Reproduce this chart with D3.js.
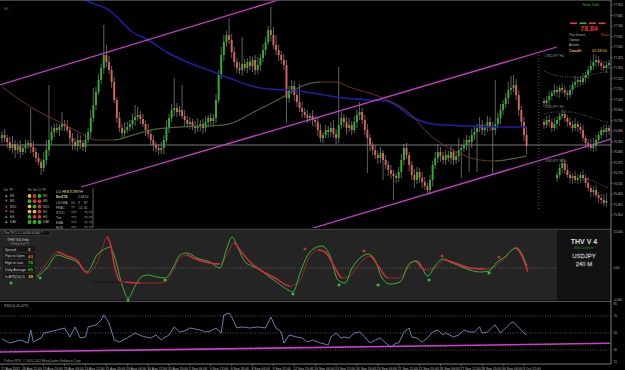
<!DOCTYPE html>
<html><head><meta charset="utf-8">
<script src="https://cdn.jsdelivr.net/npm/d3@7"></script>
<style>html,body{margin:0;padding:0;background:#000;overflow:hidden}svg{display:block}text{font-family:"Liberation Sans",Arial,sans-serif}</style>
</head><body><svg id="c" width="625" height="370"></svg>
<script>
// ---------- DATA ----------
const firstOpen = 76.62;
const closes = [
76.65,76.62,76.58,76.52,76.56,76.50,76.54,76.48,76.52,76.55,
76.57,76.53,76.48,76.42,76.38,76.32,76.40,76.50,76.60,76.68,
76.72,76.70,76.73,76.76,76.74,76.70,76.62,76.58,76.54,76.60,
76.57,76.53,76.60,76.68,76.82,76.95,77.08,77.20,77.32,77.45,
77.38,77.30,77.18,77.00,76.82,76.72,76.67,76.70,76.73,76.76,
76.80,76.83,76.85,76.81,76.76,76.70,76.66,76.60,76.55,76.52,
76.50,76.52,76.60,76.72,76.82,76.90,76.92,76.88,76.90,76.84,
76.80,76.76,76.78,76.73,76.72,76.74,76.76,76.72,76.78,76.82,
76.79,76.82,77.00,77.25,77.45,77.58,77.65,77.60,77.48,77.38,
77.32,77.30,77.36,77.32,77.38,77.34,77.40,77.30,77.35,77.42,
77.50,77.58,77.70,77.65,77.55,77.50,77.45,77.40,77.35,77.02,
77.10,77.14,77.05,76.98,76.92,76.88,76.85,76.82,76.84,76.80,
76.78,76.70,76.62,76.65,76.70,76.68,76.72,76.66,76.62,76.75,
76.82,76.78,76.72,76.75,76.70,76.78,76.85,76.88,76.80,76.70,
76.62,76.55,76.50,76.45,76.42,76.47,76.40,76.35,76.30,76.26,
76.24,76.22,76.28,76.40,76.52,76.45,76.35,76.25,76.20,76.28,
76.22,76.18,76.14,76.10,76.20,76.35,76.42,76.48,76.44,76.40,
76.45,76.42,76.48,76.40,76.44,76.50,76.52,76.55,76.60,76.58,
76.65,76.68,76.72,76.75,76.70,76.72,76.78,76.74,76.70,76.76,
76.82,76.90,76.96,77.02,77.10,77.12,77.15,77.05,76.90,76.78,
76.65,76.54];
const wickUp = [
4,6,3,5,8,4,3,6,4,5, 3,35,6,4,5,3,8,10,55,6, 4,5,3,12,4,6,3,5,4,7, 5,3,6,4,8,17,5,6,4,30,
10,6,4,5,3,6,4,8,5,4, 6,12,8,4,5,3,6,4,5,3, 4,6,5,8,4,6,30,5,4,25, 6,4,5,3,6,8,4,5,6,3,
5,4,6,5,8,7,4,17,6,5, 4,6,27,5,4,6,3,5,8,4, 6,5,4,23,8,10,5,4,6,5, 4,6,5,3,18,6,4,5,3,6,
4,5,6,3,5,4,6,8,5,58, 6,4,5,7,4,6,5,10,4,5, 6,4,3,5,4,6,3,5,4,5, 4,3,5,6,4,5,3,4,6,5,
4,6,5,3,5,4,6,8,5,4, 5,4,6,3,5,12,4,6,5,4, 6,5,4,8,5,4,6,5,4,44, 5,6,4,5,8,12,10,6,5,4, 5,8];
const wickDn = [
5,4,6,3,5,8,4,6,3,5, 4,6,5,4,3,7,4,5,6,4, 5,3,6,4,5,3,6,8,4,5, 6,4,5,3,6,4,5,3,4,6,
5,4,6,3,5,4,6,5,3,4, 5,6,4,5,3,6,4,5,6,4, 5,4,6,3,5,4,6,5,4,3, 6,4,5,3,6,4,5,6,4,5,
4,6,5,3,4,6,5,4,6,5, 5,4,6,3,5,4,6,5,4,6, 4,5,3,6,4,5,6,4,5,25, 5,4,6,5,4,6,3,5,4,6,
5,6,4,5,3,6,5,4,6,5, 4,5,6,4,5,3,6,5,4,5, 35,6,5,4,6,5,20,4,6,5, 24,5,4,6,5,4,6,5,8,4,
5,6,4,3,5,6,4,5,6,4, 5,4,6,5,4,6,28,4,5,30, 6,5,40,4,5,6,4,5,45,5, 4,6,5,4,6,5,4,5,6,4, 6,8];
const blueMA = [[28,78.08],[32,78.00],[41,77.90],[50,77.68],[56,77.60],[63,77.48],[71,77.38],[80,77.29],[87,77.22],[99,77.12],[114,77.09],[128,77.03],[141,77.00],[147,76.99],[152,76.93],[156,76.85],[165,76.76],[178,76.74],[191,76.73],[201,76.73]];
const trendMA = [[0,77.13],[7,77.00],[15,76.87],[22,76.78],[30,76.67],[36,76.60],[43,76.60],[49,76.64],[57,76.70],[68,76.73],[85,76.75],[98,76.90],[107,77.02],[115,77.14],[122,77.18],[128,77.18],[133,77.13],[145,77.03],[156,76.87],[164,76.65],[175,76.47],[183,76.40],[189,76.39],[195,76.41],[201,76.44]];
const channels = [[[-1,77.15],[106,78.00]],[[30.3,76.13],[212.6,77.53]],[[119.2,75.72],[238.7,76.65]]];
const hLineLevel = 76.55;
const priceTicks = ["77.950","77.845","77.740","77.635","77.530","77.425","77.320","77.215","77.110","77.005","76.900","76.795","76.690","76.585","76.480","76.375","76.270","76.165","76.060","75.955","75.850"];
const timeLabels = ["17 Aug 2011","18 Aug 12:00","19 Aug 20:00","23 Aug 04:00","24 Aug 12:00","25 Aug 20:00","29 Aug 04:00","30 Aug 12:00","31 Aug 20:00","2 Sep 04:00","5 Sep 12:00","6 Sep 20:00","8 Sep 04:00","9 Sep 12:00","12 Sep 20:00","14 Sep 04:00","15 Sep 12:00","16 Sep 20:00","20 Sep 04:00","21 Sep 12:00","22 Sep 20:00","26 Sep 04:00","27 Sep 12:00","28 Sep 20:00","30 Sep 04:00","3 Oct 12:00"];

// projection mini charts
const miniTitles = ["USDJPY H4","USDJPY H1","USDJPY M15"];
const miniTitleLevels = [77.43, 76.92, 76.38];
const mini1 = [76.97,77.00,77.04,77.07,77.10,77.08,77.12,77.10,77.07,77.05,77.10,77.15,77.18,77.20,77.18,77.22,77.25,77.30,77.34,77.38,77.40,77.37,77.34,77.32,77.35,77.37];
const mini2 = [76.75,76.80,76.78,76.72,76.76,76.80,76.84,76.86,76.82,76.78,76.75,76.72,76.76,76.73,76.70,76.62,76.57,76.55,76.52,76.54,76.60,76.65,76.70,76.68,76.72,76.69];
const mini3 = [76.25,76.32,76.37,76.30,76.25,76.22,76.24,76.20,76.22,76.25,76.22,76.17,76.12,76.08,76.10,76.05,76.02,76.00,75.97,75.99];
const mini3Start = 5;
const miniWickUp = [3,4,5,3,6,4,3,5,4,3,5,4,6,3,4,5,3,4,6,8,5,4,3,5,4,3];
const miniWickDn = [4,3,5,4,3,5,6,3,4,5,3,4,3,5,4,3,5,4,3,4,5,3,4,3,5,4];
const miniDots1 = [[0,77.29],[4,77.25],[9,77.23],[14,77.23],[18,77.25],[21,77.27],[25,77.28]];
const miniDots2 = [[0,76.86],[5,76.88],[10,76.88],[15,76.85],[20,76.81],[25,76.77]];
const miniDots3 = [[14,76.23],[18,76.20],[22,76.15],[25,76.12]];

// THV indicator
const thvFast = [[13.4,-9],[17.2,0],[21.1,13],[24.9,10],[28.7,6],[32.6,-4],[36.4,13],[40.2,20],[41.4,21],[43.3,10],[46,-17],[48.3,-30],[51,-18],[52.9,-10],[55.6,-7],[59.4,-9],[62.5,-10],[65.5,0],[68.2,13],[70.9,15],[74.7,10],[79.7,6],[83.5,0],[86.2,20],[88.1,31],[90.4,20],[93.1,6],[95.8,2],[98.9,-2],[101.9,-8],[105.7,-15],[109.6,-22],[111.5,-24],[114.2,-5],[116.9,12],[119.9,20],[122.6,22],[125.7,12],[128.7,-12],[131.4,-15],[134.1,0],[137.2,10],[140.2,14],[142.9,8],[145.6,-10],[148.7,-16],[152.5,-14],[156.3,5],[159,7],[163.2,-8],[165.9,2],[169,9],[171.6,6],[175.5,2],[179.3,-2],[183.1,-4],[186.6,-3],[189.7,6],[192.7,11],[195.4,18],[197.3,20],[199.2,14],[201.1,2]];
const thvSlow = [[13.4,-8],[17.2,5],[21.1,16],[24.9,12],[28.7,8],[32.6,-5],[36.4,5],[38.7,22],[40.2,31],[41.4,25],[43.3,0],[45.2,-13],[47.1,-14],[52.9,-15],[59.4,-15],[62.5,-14],[64.4,-8],[68.2,10],[70.9,13],[73.2,10],[79.7,5],[83.5,4],[86.6,15],[88.9,25],[91.2,18],[95,6],[99.6,-3],[104.6,-10],[110.3,-18],[114.2,-12],[117.2,8],[121.1,18],[123.8,16],[127.6,0],[130.3,-10],[133.3,-8],[137.2,5],[141,12],[144.1,2],[147.9,-10],[151.7,-10],[155.6,0],[158.2,7],[162.1,-2],[165.9,0],[169.7,8],[173.6,5],[179.3,0],[185.1,-1],[188.9,2],[192.7,10],[196.6,20],[199.2,12],[201.5,-4]];
const thvBuy = [[14.6,-8],[48.3,-30],[62.5,-10],[111.5,-24],[129.1,-15],[144.1,-15],[163.6,-10],[186.6,-3]];
const thvSell = [[116.1,17],[138.7,15],[168.6,10],[190.4,9]];
const thvInfoLabels = ["Spread","Pips to Open","High to Low","Daily Average","Is ATR(10)-%"];
const thvInfoValues = ["2","43","78","65","38"];

// RSI
const rsi = [[0,42.9],[3,38.2],[7,41.8],[10,38.2],[11,53.5],[12,39.4],[15,44.1],[16,50],[18,51.2],[21,53.5],[24,55.9],[26,45.3],[28,57.1],[30,44.1],[32,45.3],[33,57.1],[36,59.4],[38,65.3],[39,71.2],[41,61.8],[43,41.8],[45,39.4],[48,44.1],[51,50],[53,47.1],[55,45.3],[57,44.1],[59,47.6],[61,41.8],[62,44.1],[64,47.6],[66,57.1],[68,51.2],[70,52.4],[72,55.9],[74,54.7],[76,53.5],[78,51.2],[80,52.4],[82,55.9],[84,50],[85,71.2],[87,73.5],[88,68.8],[90,55.9],[92,57.1],[95,55.9],[98,57.1],[101,55.9],[103,68.8],[105,55.9],[107,51.2],[108,38.2],[110,47.6],[113,45.3],[115,44.1],[117,39.4],[119,41.8],[122,38.2],[125,35.9],[126,45.3],[128,50],[130,44.1],[131,45.3],[133,44.1],[135,50],[137,51.2],[139,45.3],[141,38.2],[143,41.8],[145,44.1],[147,38.2],[149,33.5],[151,38.2],[152,38.2],[154,51.2],[156,55.9],[157,45.3],[159,44.1],[161,39.4],[163,44.1],[165,51.2],[167,53.5],[169,47.6],[170,50],[173,45.3],[175,47.6],[177,53.5],[179,51.2],[181,51.2],[183,57.1],[184,50],[186,51.2],[188,57.1],[189,59.4],[191,50],[193,55.9],[195,61.8],[196,62.9],[197,59.4],[199,53.5],[200,50],[201,47.6]];
const rsiTrend = [[-1,27.6],[233,37.9]];
const rsiLevels = [70,50,30];
const rsiTicks = [85,70,50,30,15];

// dashboard tables
const tfRows = ["M1","M5","M15","H1","H4","DAY"];
const tfDir = ["#2ec82e","#e04040","#e04040","#e04040","#2ec82e","#2ec82e"];
const tfDots = [["#e8b830","#e03030","#20c020"],["#20c020","#e03030","#e03030"],["#e8b830","#20c020","#e03030"],["#e8b830","#e8b830","#e03030"],["#20c020","#e03030","#e03030"],["#20c020","#20c020","#20c020"]];
const histRows = [["LGOMA","14","3","87"],["FRAC","??","-14","61"],["STOC","???","","??.??"],["Trix","???","","??.??"],["EMA","???","","??.??"],["HOR","???","","??.??"]];

// ---------- DRAW ----------
const svg = d3.select("#c");
svg.append("rect").attr("width",625).attr("height",370).attr("fill","#000");
const defs = svg.append("defs");
const W = 611;
const x = d3.scaleLinear().domain([0,201]).range([2,526.6]);
const y = d3.scaleLinear().domain([75.72,78.00]).range([228,0]);
defs.append("clipPath").attr("id","mainClip").append("rect").attr("x",0).attr("y",0.5).attr("width",W).attr("height",227.5);

const main = svg.append("g").attr("clip-path","url(#mainClip)");
main.append("line").attr("x1",0).attr("x2",W).attr("y1",y(hLineLevel)).attr("y2",y(hLineLevel)).attr("stroke","#9a9a9a").attr("stroke-width",0.8);

// candles
const bars = closes.map((c,i)=>{const o = i ? closes[i-1] : firstOpen; return {i,o,c,h:Math.max(o,c)+wickUp[i]/100,l:Math.min(o,c)-wickDn[i]/100};});
main.selectAll(".wk").data(bars).join("line").attr("x1",d=>x(d.i)).attr("x2",d=>x(d.i)).attr("y1",d=>y(d.h)).attr("y2",d=>y(d.l)).attr("stroke","#8a8a8a").attr("stroke-width",0.7);
main.selectAll(".bd").data(bars).join("rect").attr("x",d=>x(d.i)-0.95).attr("width",1.9)
  .attr("y",d=>y(Math.max(d.o,d.c))).attr("height",d=>Math.max(0.8,Math.abs(y(d.o)-y(d.c))))
  .attr("fill",d=>d.c>=d.o?"#2cb52c":"#e0605a");

// moving averages
const lineG = d3.line().x(d=>x(d[0])).y(d=>y(d[1])).curve(d3.curveMonotoneX);
main.append("path").attr("d",lineG(blueMA)).attr("fill","none").attr("stroke","#1e1eaa").attr("stroke-width",1.5);
const upClip = defs.append("clipPath").attr("id","trendUp");
trendMA.forEach((d,k)=>{ if(k<trendMA.length-1 && trendMA[k+1][1]>d[1]) upClip.append("rect").attr("x",x(d[0])).attr("y",0).attr("width",x(trendMA[k+1][0])-x(d[0])).attr("height",228); });
main.append("path").attr("d",lineG(trendMA)).attr("fill","none").attr("stroke","#8e3a2a").attr("stroke-width",0.8);
main.append("path").attr("d",lineG(trendMA)).attr("fill","none").attr("stroke","#2f7f2f").attr("stroke-width",0.9).attr("clip-path","url(#trendUp)");

// channel lines
channels.forEach(c=>{
  main.append("line").attr("x1",x(c[0][0])).attr("y1",y(c[0][1])).attr("x2",x(c[1][0])).attr("y2",y(c[1][1])).attr("stroke","#d23ad2").attr("stroke-width",1.3);
});

// projection mini charts
const mx = d3.scaleLinear().domain([0,25]).range([544,609]);
main.append("line").attr("x1",mx(-2)).attr("x2",mx(-2)).attr("y1",y(77.45)).attr("y2",y(75.90)).attr("stroke","#888").attr("stroke-width",0.7).attr("stroke-dasharray","1,2");
function miniChart(vals, start, dots, title, titleLevel, openV){
  const bs = vals.map((c,k)=>{const o = k? vals[k-1] : openV; return {k:k+start,o,c,h:Math.max(o,c)+miniWickUp[k]/100,l:Math.min(o,c)-miniWickDn[k]/100};});
  const g = main.append("g");
  g.selectAll("line").data(bs).join("line").attr("x1",d=>mx(d.k)).attr("x2",d=>mx(d.k)).attr("y1",d=>y(d.h)).attr("y2",d=>y(d.l)).attr("stroke","#8a8a8a").attr("stroke-width",0.6);
  g.selectAll("rect").data(bs).join("rect").attr("x",d=>mx(d.k)-0.95).attr("width",1.9).attr("y",d=>y(Math.max(d.o,d.c))).attr("height",d=>Math.max(0.8,Math.abs(y(d.o)-y(d.c)))).attr("fill",d=>d.c>=d.o?"#2cb52c":"#e0605a");
  const dl = d3.line().x(d=>mx(d[0])).y(d=>y(d[1])).curve(d3.curveMonotoneX);
  g.append("path").attr("d",dl(dots)).attr("fill","none").attr("stroke","#bbb").attr("stroke-width",0.6).attr("stroke-dasharray","0.8,1.6");
  g.append("text").attr("x",mx(0.5)).attr("y",y(titleLevel)).attr("font-size",3.4).attr("fill","#9a9a9a").text(title);
}
miniChart(mini1,0,miniDots1,miniTitles[0],miniTitleLevels[0],76.99);
miniChart(mini2,0,miniDots2,miniTitles[1],miniTitleLevels[1],76.78);
miniChart(mini3,mini3Start,miniDots3,miniTitles[2],miniTitleLevels[2],76.22);

// top-left label
svg.append("text").attr("x",4).attr("y",10).attr("font-size",3.5).attr("fill","#2a9a2a").text("H4 ");
// top-right info
svg.append("text").attr("x",591).attr("y",6).attr("font-size",4).attr("fill","#2cbf2c").attr("text-anchor","middle").text("New York");
["#e04040","#2cbf2c","#e04040","#e04040"].forEach((c,k)=>svg.append("rect").attr("x",570+k*9.5).attr("y",22.5).attr("width",7).attr("height",1.6).attr("fill",c));
svg.append("text").attr("x",589).attr("y",31).attr("font-size",7).attr("font-weight","bold").attr("fill","#ee3030").attr("text-anchor","middle").text("78.84");
[["Trix Direct","Bear","#ee3030"],["Option","",""],["Action","",""]].forEach((r,k)=>{
  const yy = 35.5+k*5.2;
  svg.append("text").attr("x",569).attr("y",yy).attr("font-size",3.6).attr("fill","#bbb").text(r[0]);
  svg.append("text").attr("x",589).attr("y",yy).attr("font-size",3.6).attr("fill","#bbb").text(":");
  if(r[1]) svg.append("text").attr("x",601).attr("y",yy).attr("font-size",3.6).attr("fill",r[2]).text(r[1]);
});
svg.append("text").attr("x",569).attr("y",51.5).attr("font-size",3.8).attr("font-weight","bold").attr("fill","#f0b020").text("Candle");
svg.append("text").attr("x",589).attr("y",51.5).attr("font-size",3.8).attr("fill","#f0b020").text(":");
svg.append("text").attr("x",592).attr("y",51.5).attr("font-size",3.8).attr("fill","#f0c040").text("02:48:50");

// bottom-left dashboard
const dash = svg.append("g");
dash.append("text").attr("x",4).attr("y",191).attr("font-size",3.3).attr("fill","#aaa").text("Dir  TF");
dash.append("text").attr("x",28).attr("y",191).attr("font-size",3.3).attr("fill","#aaa").text("Fo So Ct  TF");
tfRows.forEach((r,k)=>{
  const yy = 196+k*5.2;
  dash.append("path").attr("d",k%2===0||k>3? `M${5},${yy+1} l1.3,-2.4 l1.3,2.4 z` : `M${5},${yy-1.4} l1.3,2.4 l1.3,-2.4 z`).attr("fill",tfDir[k]);
  dash.append("text").attr("x",10).attr("y",yy+1.2).attr("font-size",3.3).attr("fill","#bbb").text(r);
  tfDots[k].forEach((c,j)=>dash.append("circle").attr("cx",29.5+j*5).attr("cy",yy).attr("r",1.9).attr("fill",c));
  dash.append("text").attr("x",43).attr("y",yy+1.2).attr("font-size",3.3).attr("fill","#bbb").text(r);
});
dash.append("line").attr("x1",93).attr("x2",93).attr("y1",188).attr("y2",228).attr("stroke","#777").attr("stroke-width",0.8);
dash.append("text").attr("x",56).attr("y",193).attr("font-size",4).attr("fill","#ccc").text("LU ").append("tspan").attr("fill","#e8e070").text("HISTORY").append("tspan").attr("fill","#ccc").text("H");
dash.append("text").attr("x",56).attr("y",198.3).attr("font-size",3.2).attr("fill","#d8d040").attr("font-weight","bold").text("BarETA");
dash.append("text").attr("x",78).attr("y",198.3).attr("font-size",3.2).attr("fill","#bbb").text("2:48:50");
histRows.forEach((r,k)=>{
  const yy = 203.5+k*5.1;
  dash.append("text").attr("x",56).attr("y",yy).attr("font-size",3.2).attr("fill","#bbb").text(r[0]);
  dash.append("text").attr("x",71).attr("y",yy).attr("font-size",3.2).attr("fill","#bbb").text(r[1]);
  dash.append("text").attr("x",78).attr("y",yy).attr("font-size",3.2).attr("fill","#bbb").text(r[2]);
  dash.append("text").attr("x",84).attr("y",yy).attr("font-size",3.2).attr("fill","#bbb").text(r[3]);
});

// ---------- THV panel ----------
const thvY = d3.scaleLinear().domain([-33,37]).range([301,231]);
svg.append("line").attr("x1",0).attr("x2",W).attr("y1",229.3).attr("y2",229.3).attr("stroke","#666").attr("stroke-width",0.8);
svg.append("rect").attr("x",0).attr("y",230).attr("width",557).attr("height",70.5).attr("fill","#242424");
svg.append("rect").attr("x",557).attr("y",230).attr("width",54).attr("height",70.5).attr("fill","#111");
svg.append("line").attr("x1",0).attr("x2",W).attr("y1",301.5).attr("y2",301.5).attr("stroke","#666").attr("stroke-width",0.8);
svg.append("line").attr("x1",0).attr("x2",557).attr("y1",thvY(0)).attr("y2",thvY(0)).attr("stroke","#888").attr("stroke-width",0.6).attr("stroke-dasharray","1,1.5");
const thvL = d3.line().x(d=>x(d[0])).y(d=>thvY(d[1])).curve(d3.curveMonotoneX);
const dnClip = defs.append("clipPath").attr("id","slowDn");
thvSlow.forEach((d,k)=>{ if(k<thvSlow.length-1 && thvSlow[k+1][1]<d[1]) dnClip.append("rect").attr("x",x(d[0])).attr("y",230).attr("width",x(thvSlow[k+1][0])-x(d[0])).attr("height",72); });
svg.append("path").attr("d",thvL(thvSlow)).attr("fill","none").attr("stroke","#b52828").attr("stroke-width",0.8);
svg.append("path").attr("d",thvL(thvFast)).attr("fill","none").attr("stroke","#36c436").attr("stroke-width",0.9);
svg.append("path").attr("d",thvL(thvSlow)).attr("fill","none").attr("stroke","#d42a3c").attr("stroke-width",1.5).attr("clip-path","url(#slowDn)");
function plus(g,cx,cy,col){ g.append("path").attr("d",`M${cx-1.6},${cy} h3.2 M${cx},${cy-1.6} v3.2`).attr("stroke",col).attr("stroke-width",1.1); }
thvBuy.forEach(d=>plus(svg,x(d[0]),thvY(d[1])+2,"#40e040"));
thvSell.forEach(d=>plus(svg,x(d[0]),thvY(d[1])-2,"#e03a3a"));
svg.append("text").attr("x",92).attr("y",283).attr("font-size",3.6).attr("fill","#111").text("www.cobraforex.com");
svg.append("rect").attr("x",3).attr("y",230.8).attr("width",47).attr("height",4.6).attr("fill","#111").attr("stroke","#555").attr("stroke-width",0.4);
svg.append("text").attr("x",4).attr("y",234.3).attr("font-size",3.2).attr("fill","#bbb").text("Trix TV 1.1 1 0.000 4.000 ?");
svg.append("text").attr("x",7).attr("y",240.5).attr("font-size",4).attr("fill","#ccc").text("THV  V4  Info");
svg.append("text").attr("x",10).attr("y",245).attr("font-size",2.8).attr("fill","#999").text("# Pulse 0 or ??");
const infoCols = ["#e8c020","#ff6030","#30d030","#30d030","#e8c020"];
thvInfoLabels.forEach((l,k)=>{
  const yy = 250+k*6.7;
  svg.append("rect").attr("x",3).attr("y",yy-3.4).attr("width",32).attr("height",5).attr("fill","#161616");
  svg.append("text").attr("x",5).attr("y",yy+0.7).attr("font-size",3.4).attr("fill","#ccc").text(l);
  svg.append("text").attr("x",28).attr("y",yy+1).attr("font-size",4.4).attr("font-weight","bold").attr("fill",infoCols[k]).text(thvInfoValues[k]);
});
plus(svg,11,283,"#40e040");
svg.append("text").attr("x",584).attr("y",244).attr("font-size",7).attr("font-weight","bold").attr("fill","#ddd").attr("text-anchor","middle").text("THV V 4");
svg.append("text").attr("x",584).attr("y",248.5).attr("font-size",2.8).attr("fill","#2a9a2a").attr("text-anchor","middle").text("Billy Coventure");
svg.append("text").attr("x",584).attr("y",258).attr("font-size",6).attr("fill","#111").attr("stroke","#ccc").attr("stroke-width",0.35).attr("text-anchor","middle").text("USDJPY");
svg.append("text").attr("x",584).attr("y",265.5).attr("font-size",6).attr("fill","#111").attr("stroke","#ccc").attr("stroke-width",0.35).attr("text-anchor","middle").text("240 M");

// ---------- RSI panel ----------
const rsiY = d3.scaleLinear().domain([30,70]).range([350,316]);
defs.append("clipPath").attr("id","rsiClip").append("rect").attr("x",0).attr("y",302).attr("width",W).attr("height",62);
const rg = svg.append("g").attr("clip-path","url(#rsiClip)");
rsiLevels.forEach(v=>rg.append("line").attr("x1",0).attr("x2",W).attr("y1",rsiY(v)).attr("y2",rsiY(v)).attr("stroke","#888").attr("stroke-width",0.6).attr("stroke-dasharray","1,1.5"));
rg.append("line").attr("x1",x(rsiTrend[0][0])).attr("y1",rsiY(rsiTrend[0][1])).attr("x2",x(rsiTrend[1][0])).attr("y2",rsiY(rsiTrend[1][1])).attr("stroke","#d23ad2").attr("stroke-width",1.6);
rg.append("path").attr("d",d3.line().x(d=>x(d[0])).y(d=>rsiY(d[1])).curve(d3.curveLinear)(rsi)).attr("fill","none").attr("stroke","#7f9fd8").attr("stroke-width",0.8);
svg.append("text").attr("x",4).attr("y",307).attr("font-size",3.3).attr("fill","#aaa").text("RSI(14) 45.4775");
svg.append("text").attr("x",4).attr("y",362).attr("font-size",3.2).attr("fill","#999").text("Pollrex RTS, © 2001-2011 MetaQuotes Software Corp.");

// ---------- axes ----------
svg.append("line").attr("x1",0).attr("x2",W).attr("y1",0.5).attr("y2",0.5).attr("stroke","#555").attr("stroke-width",0.8);
svg.append("line").attr("x1",W).attr("x2",W).attr("y1",0).attr("y2",364).attr("stroke","#999").attr("stroke-width",0.8);
svg.append("line").attr("x1",0).attr("x2",W).attr("y1",364).attr("y2",364).attr("stroke","#999").attr("stroke-width",0.8);
priceTicks.forEach(t=>{
  const yy = y(+t);
  svg.append("line").attr("x1",W).attr("x2",W+2).attr("y1",yy).attr("y2",yy).attr("stroke","#999").attr("stroke-width",0.5);
  svg.append("text").attr("x",W+2.5).attr("y",yy+1).attr("font-size",3).attr("fill","#bbb").text(t);
});
[["15.000",232.5],["0.00",thvY(0)+1],["-0.000",300.5]].forEach(t=>svg.append("text").attr("x",W+2.5).attr("y",t[1]).attr("font-size",3).attr("fill","#bbb").text(t[0]));
rsiTicks.forEach(v=>svg.append("text").attr("x",W+2.5).attr("y",Math.min(363,Math.max(305,rsiY(v)+1))).attr("font-size",3).attr("fill","#bbb").text(v));
timeLabels.forEach((t,k)=>{
  const xx = x(k*8);
  svg.append("line").attr("x1",xx).attr("x2",xx).attr("y1",364).attr("y2",366).attr("stroke","#999").attr("stroke-width",0.5);
  svg.append("text").attr("x",xx-1).attr("y",369.5).attr("font-size",3.4).attr("fill","#bbb").text(t);
});
</script></body></html>
